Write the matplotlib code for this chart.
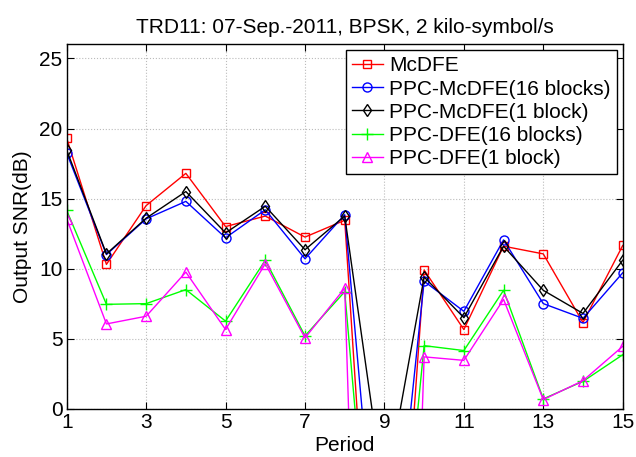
import numpy as np
import matplotlib.pyplot as plt

plt.rcParams['font.family'] = ['Liberation Sans', 'DejaVu Sans']

period = [1, 2, 3, 4, 5, 6, 7, 8, 9, 10, 11, 12, 13, 14, 15]
# period 9 failed for every receiver, the values are far below the axis
mcdfe = [19.3, 10.3, 14.5, 16.8, 13.0, 13.75, 12.25, 13.45, -30.0, 9.9, 5.65, 11.6, 11.05, 6.15, 11.65]
ppc_mcdfe_16 = [18.25, 11.0, 13.55, 14.8, 12.2, 14.2, 10.7, 13.85, -18.0, 9.1, 6.95, 12.05, 7.5, 6.45, 9.7]
ppc_mcdfe_1 = [18.45, 11.05, 13.6, 15.5, 12.55, 14.45, 11.35, 13.75, -6.3, 9.4, 6.5, 11.6, 8.45, 6.8, 10.6]
ppc_dfe_16 = [14.15, 7.45, 7.5, 8.5, 6.25, 10.6, 5.2, 8.35, -24.0, 4.5, 4.15, 8.45, 0.7, 1.95, 3.85]
ppc_dfe_1 = [13.55, 6.05, 6.6, 9.75, 5.65, 10.35, 5.05, 8.6, -80.0, 3.7, 3.45, 7.8, 0.65, 2.0, 4.45]

labels = ['McDFE', 'PPC-McDFE(16 blocks)', 'PPC-McDFE(1 block)',
          'PPC-DFE(16 blocks)', 'PPC-DFE(1 block)']

fig = plt.figure(figsize=(6.36, 4.57), dpi=100)
ax = fig.add_axes([0.1049, 0.1057, 0.8742, 0.797])

ms = 6
ax.plot(period, mcdfe, '-s', color='#ff0000', mfc='none', ms=ms, lw=1, label=labels[0])
ax.plot(period, ppc_mcdfe_16, '-o', color='#0000ff', mfc='none', ms=ms + 0.5, lw=1, label=labels[1])
ax.plot(period, ppc_mcdfe_1, '-d', color='#000000', mfc='none', ms=ms + 0.5, lw=1, label=labels[2])
ax.plot(period, ppc_dfe_16, '-+', color='#00ff00', mfc='none', ms=ms + 2, lw=1, label=labels[3])
ax.plot(period, ppc_dfe_1, '-^', color='#ff00ff', mfc='none', ms=ms + 1, lw=1, label=labels[4])

ax.set_xlim(1, 15)
ax.set_ylim(0, 26)
ax.set_xticks([1, 3, 5, 7, 9, 11, 13, 15])
ax.set_yticks([0, 5, 10, 15, 20, 25])
ax.grid(True, linestyle=':', color='#bbbbbb', lw=0.8)
ax.tick_params(direction='in', top=True, right=True, labelsize=15, length=5, pad=3)
for s in ax.spines.values():
    s.set_linewidth(1)

ax.set_xlabel('Period', fontsize=15, labelpad=3)
ax.set_ylabel('Output SNR(dB)', fontsize=15, labelpad=5)
ax.set_title('TRD11: 07-Sep.-2011, BPSK, 2 kilo-symbol/s', fontsize=15, pad=8)

leg = ax.legend(loc='upper right', fontsize=15, fancybox=False, framealpha=1,
                edgecolor='black', borderpad=0.3, labelspacing=0.2,
                handlelength=1.5, handletextpad=0.3, borderaxespad=0.27)
leg.get_frame().set_linewidth(1)

fig.savefig('out.png', dpi=100)
